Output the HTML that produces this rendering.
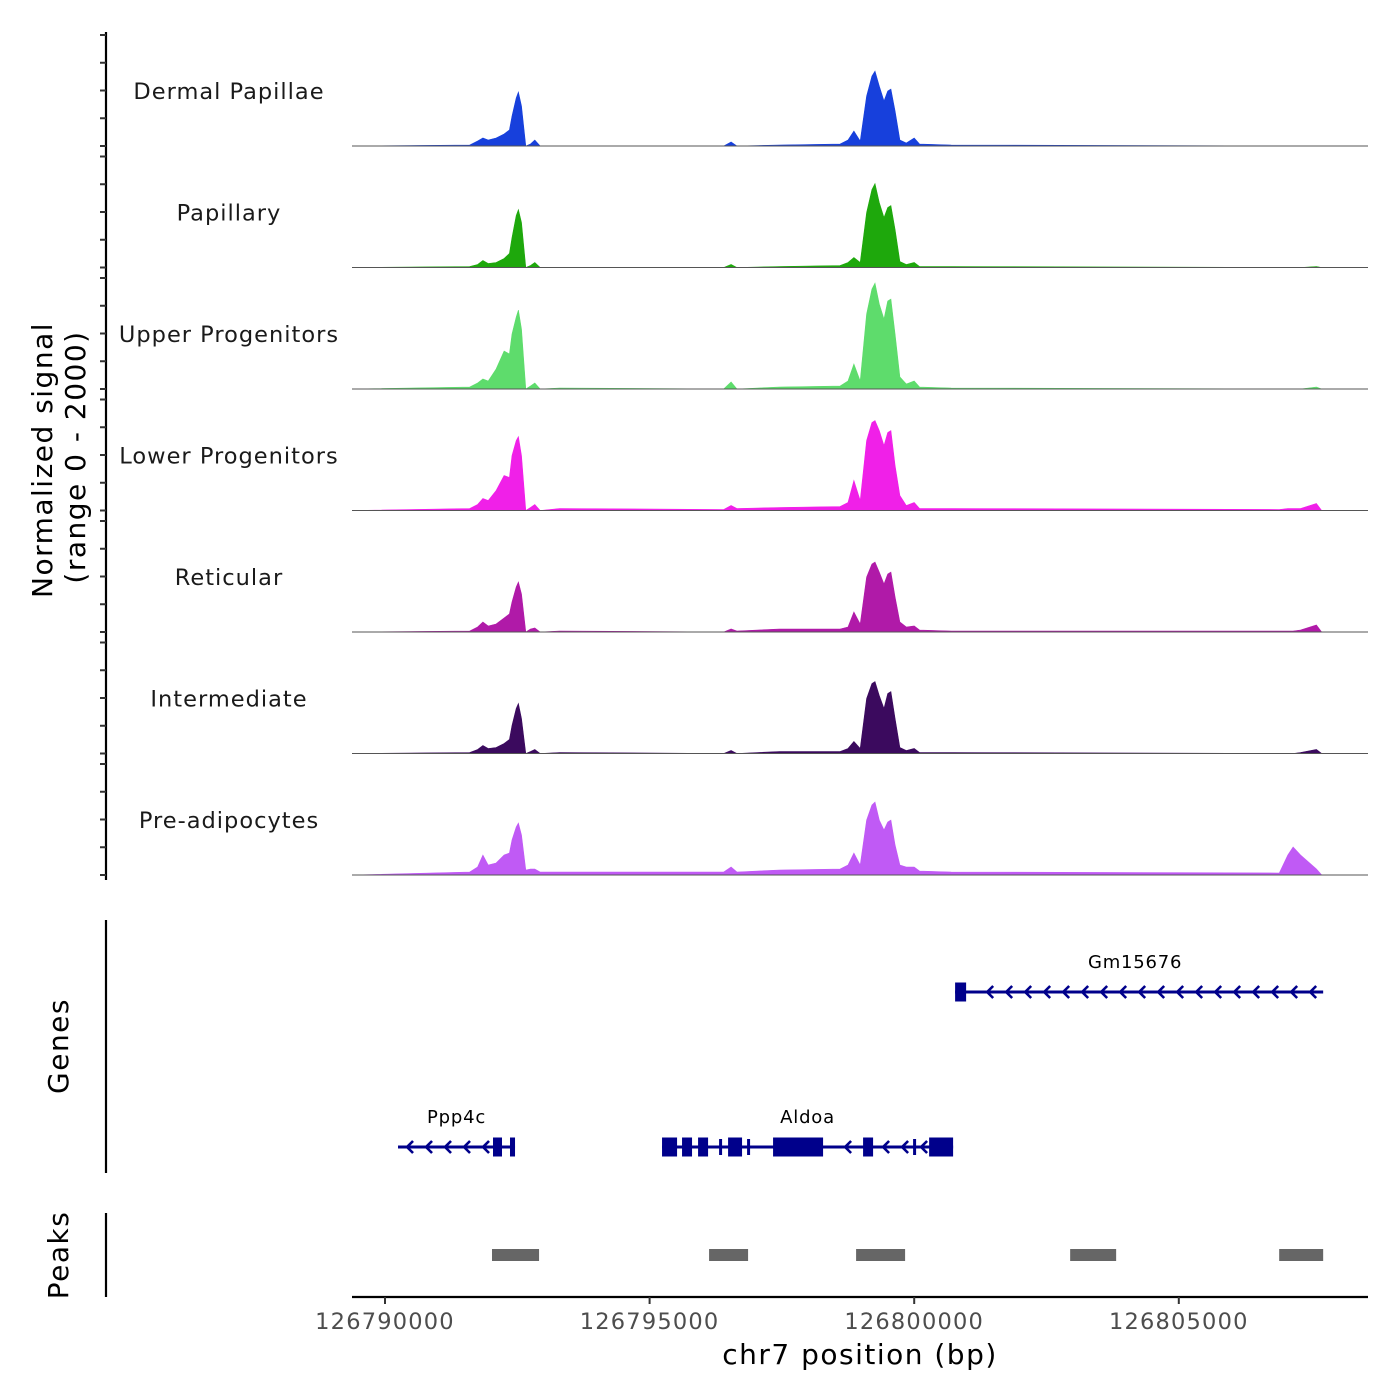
<!DOCTYPE html>
<html><head><meta charset="utf-8"><style>
html,body{margin:0;padding:0;background:#fff;}
svg{display:block;font-family:"DejaVu Sans","Liberation Sans",sans-serif;}
</style></head><body>
<svg id="chart" width="1400" height="1400" viewBox="0 0 1400 1400"></svg>
<script>
const trackNames = ["Dermal Papillae","Papillary","Upper Progenitors","Lower Progenitors","Reticular","Intermediate","Pre-adipocytes"];
const trackColors = ["#1740dc","#1ea80c","#5edc6c","#f020e8","#b01aa8","#3b0a5e","#c05af5"];
const positions = [126789400,126791600,126791750,126791850,126791950,126792100,126792250,126792350,126792400,126792480,126792520,126792580,126792660,126792750,126792830,126792930,126793300,126796400,126796540,126796650,126797450,126798600,126798750,126798860,126798980,126799100,126799200,126799260,126799340,126799430,126799500,126799560,126799640,126799730,126799850,126800000,126800100,126800700,126806900,126807060,126807160,126807300,126807600,126807700,126808550];
const sigDermal = [0,18,90,144,108,144,216,288,540,864,972,720,0,36,108,0,0,0,72,0,18,36,108,270,90,900,1260,1350,1080,810,990,1026,630,108,54,144,36,18,0,0,0,0,0,0,0];
const sigPapillary = [0,18,54,126,72,90,162,252,540,936,1044,810,0,36,90,0,0,0,54,0,18,36,90,180,90,990,1404,1512,1170,900,1080,1116,684,108,54,90,18,18,0,0,0,0,18,0,0];
const sigUpper = [0,36,108,180,144,360,684,630,990,1296,1422,1080,0,54,108,0,18,0,126,0,36,54,144,450,144,1350,1800,1908,1530,1260,1584,1620,990,216,90,144,36,18,0,0,0,0,36,0,0];
const sigLower = [0,36,108,216,180,360,630,594,990,1260,1332,990,0,54,108,0,36,18,90,36,54,72,144,540,180,1260,1584,1620,1440,1170,1404,1440,810,270,90,144,36,36,18,36,36,36,126,0,0];
const sigReticular = [0,18,90,180,108,144,252,324,540,810,900,684,0,54,72,0,18,0,54,18,54,54,90,360,144,990,1224,1260,1080,864,1044,1080,630,180,90,108,36,18,18,18,18,36,126,0,0];
const sigIntermediate = [0,18,72,144,90,108,180,252,504,810,900,630,0,36,72,0,18,0,54,0,36,36,90,216,90,990,1260,1296,1044,810,1080,1116,630,108,54,90,18,18,0,0,0,18,72,0,0];
const sigPre = [0,54,144,360,180,216,360,396,630,864,936,720,90,108,108,54,54,54,144,54,90,108,180,396,180,990,1260,1314,990,810,954,990,540,180,144,144,72,54,36,360,504,360,108,0,0];
const signals = [sigDermal,sigPapillary,sigUpper,sigLower,sigReticular,sigIntermediate,sigPre];
const xTicks = [126790000,126795000,126800000,126805000];
const yTickValues = [0,500,1000,1500,2000];
const peakStarts = [126792022,126796124,126798902,126802947,126806897];
const peakEnds = [126792911,126796861,126799828,126803816,126807728];
const geneNames = ["Gm15676","Ppp4c","Aldoa"];
const geneStarts = [126800773,126790246,126795235];
const geneEnds = [126807728,126792457,126800735];
const geneExons = [
  [[126800773,126800981]],
  [[126792041,126792211],[126792362,126792457]],
  [[126795235,126795519],[126795613,126795802],[126795916,126796105],[126796313,126796350],[126796483,126796747],[126796842,126796898],[126797333,126798278],[126799034,126799223],[126799979,126800017],[126800282,126800735]]
];

const NS="http://www.w3.org/2000/svg";
const svg=document.getElementById('chart');
function mk(tag,attrs,parent){const e=document.createElementNS(NS,tag);for(const k in attrs)e.setAttribute(k,attrs[k]);(parent||svg).appendChild(e);return e;}
const X0=126790000, PX0=385, PXPER=264.6/5000;
const xs=bp=>PX0+(bp-X0)*PXPER;
const base0=146, trackStep=121.5, trackH=111, maxVal=2000;
const ys=(v,i)=>base0+i*trackStep - v/maxVal*trackH;

let ax=mk('line',{x1:106,y1:32,x2:106,y2:880,stroke:'#000','stroke-width':2.2});

trackNames.forEach((name,i)=>{
  yTickValues.forEach(v=>{
    const t=mk('line',{x1:100,x2:106,y1:ys(v,i),y2:ys(v,i),stroke:'#333','stroke-width':2});
    
    
  });
  const lab=mk('text',{x:229,y:base0+i*trackStep-47,'text-anchor':'middle','font-size':22.5,fill:'#1a1a1a','letter-spacing':'1'});
  lab.textContent=name;
  
  
  let d='M'+xs(positions[0])+','+ys(0,i);
  positions.forEach((p,j)=>{d+=' L'+xs(p).toFixed(1)+','+ys(signals[i][j],i).toFixed(1);});
  d+=' L'+xs(positions[positions.length-1])+','+ys(0,i)+' Z';
  const area=mk('path',{d:d,fill:trackColors[i],stroke:trackColors[i],'stroke-width':0.6,'stroke-linejoin':'miter'});
  
  
  const bl=mk('line',{x1:352,x2:1368,y1:ys(0,i),y2:ys(0,i),stroke:'#555','stroke-width':1});
  
  
});
let t1=mk('text',{transform:'translate(52,460) rotate(-90)','text-anchor':'middle','font-size':28,fill:'#000','letter-spacing':'1.5'});
t1.textContent='Normalized signal';

let t2=mk('text',{transform:'translate(85,457) rotate(-90)','text-anchor':'middle','font-size':28,fill:'#000','letter-spacing':'1.5'});
t2.textContent='(range 0 - 2000)';


let ga=mk('line',{x1:106,y1:920,x2:106,y2:1173,stroke:'#000','stroke-width':2.2});

let gt=mk('text',{transform:'translate(68,1046) rotate(-90)','text-anchor':'middle','font-size':28,fill:'#000','letter-spacing':'1.5'});
gt.textContent='Genes';
const geneRows=[992,1147,1147];
const geneC='#00008b';
geneNames.forEach((g,i)=>{
  const y=geneRows[i];
  const grp=mk('g',{});
  
  
  mk('line',{x1:xs(geneStarts[i]),x2:xs(geneEnds[i]),y1:y,y2:y,stroke:geneC,'stroke-width':3},grp);
  const ex=geneExons[i];
  for(let x=xs(geneEnds[i])-12;x>xs(geneStarts[i])-2;x-=19){
    const inside=ex.some(e=>x>xs(e[0])-6&&x<xs(e[1])+6);
    if(inside)continue;
    mk('polyline',{points:(x+5)+','+(y-6)+' '+(x-1)+','+y+' '+(x+5)+','+(y+6),fill:'none',stroke:geneC,'stroke-width':2.6},grp);
  }
  ex.forEach(e=>{
    const w=Math.max(3,xs(e[1])-xs(e[0]));
    const h=w<4?16:19;
    mk('rect',{x:xs(e[0]),y:y-h/2,width:w,height:h,fill:geneC},grp);
  });
  const lab=mk('text',{x:(xs(geneStarts[i])+xs(geneEnds[i]))/2+(i==0?-4:0),y:y-24,'text-anchor':'middle','font-size':18,fill:'#000','letter-spacing':'0.8'},grp);
  lab.textContent=g;
});

let pa=mk('line',{x1:106,y1:1213,x2:106,y2:1297,stroke:'#000','stroke-width':2.2});

let pt=mk('text',{transform:'translate(68,1255) rotate(-90)','text-anchor':'middle','font-size':28,fill:'#000','letter-spacing':'1.5'});
pt.textContent='Peaks';
peakStarts.forEach((s,i)=>{
  const r=mk('rect',{x:xs(s),y:1249,width:xs(peakEnds[i])-xs(s),height:12,fill:'#666'});
  
  
});

let xa=mk('line',{x1:352,x2:1368,y1:1297,y2:1297,stroke:'#000','stroke-width':2.2});

xTicks.forEach(v=>{
  const t=mk('line',{x1:xs(v),x2:xs(v),y1:1297,y2:1304,stroke:'#333','stroke-width':2});
  
  
  const l=mk('text',{x:xs(v),y:1329,'text-anchor':'middle','font-size':22.5,fill:'#4d4d4d','letter-spacing':'1.2'});
  l.textContent=String(v);
  
  
});
let xt=mk('text',{x:860,y:1364,'text-anchor':'middle','font-size':28,fill:'#000','letter-spacing':'1.5'});
xt.textContent='chr7 position (bp)';

</script>
</body></html>
